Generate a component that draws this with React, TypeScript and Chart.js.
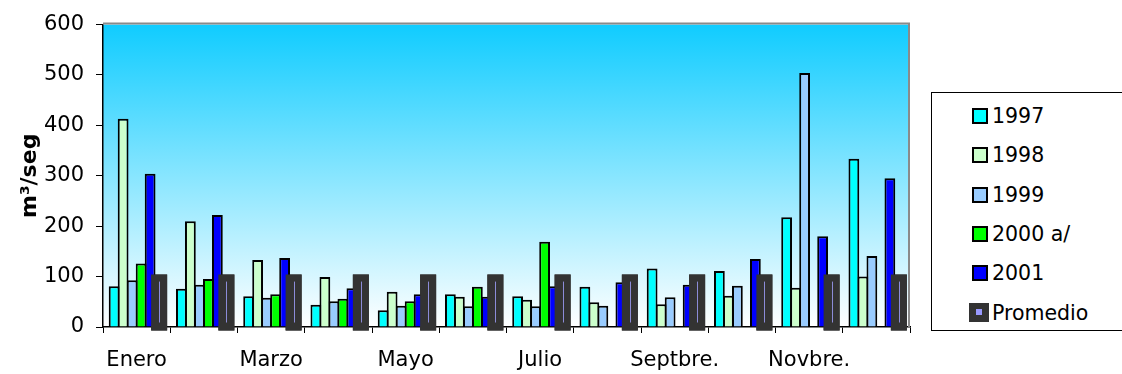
import React, { useEffect, useRef } from 'react';
import { Chart, registerables } from 'chart.js';

Chart.register(...registerables);

const months = ['Enero', 'Febrero', 'Marzo', 'Abril', 'Mayo', 'Junio', 'Julio', 'Agosto', 'Septbre.', 'Octubre', 'Novbre.', 'Dicbre.'];
const serie1997 = [81, 76, 61, 44, 33, 65, 61, 80, 116, 111, 218, 334];
const serie1998 = [413, 210, 133, 99, 70, 60, 54, 49, 45, 62, 78, 100];
const serie1999 = [93, 84, 58, 51, 42, 41, 41, 42, 59, 82, 504, 141];
const serie2000 = [126, 95, 65, 56, 51, 80, 169, null, null, null, null, null];
const serie2001 = [304, 222, 137, 77, 65, 60, 81, 89, 84, 135, 180, 295];
const promedio = [104, 104, 104, 104, 104, 104, 104, 104, 104, 104, 104, 104];

const seriesNames = ['1997', '1998', '1999', '2000 a/', '2001', 'Promedio'];
const seriesColors = ['#00FFFF', '#CCFFCC', '#99CCFF', '#00FF00', '#0000FF', '#333333'];
const yMin = 0;
const yMax = 600;
const yStep = 100;
const yTitle = 'm³/seg';

const FONT = "'DejaVu Sans', Verdana, sans-serif";

const decorPlugin = {
  id: 'decor',
  beforeDraw(chart: any) {
    const { ctx, chartArea: a } = chart;
    const g = ctx.createLinearGradient(0, a.top, 0, a.bottom);
    g.addColorStop(0, '#10CCFF');
    g.addColorStop(1, '#FFFFFF');
    ctx.save();
    ctx.fillStyle = g;
    ctx.fillRect(a.left, a.top, a.right - a.left, a.bottom - a.top);
    ctx.restore();
  },
  afterDatasetsDraw(chart: any) {
    const { ctx } = chart;
    const meta = chart.getDatasetMeta(5);
    ctx.save();
    meta.data.forEach((el: any) => el.draw(ctx));
    ctx.strokeStyle = '#8C8CD8';
    ctx.lineWidth = 1;
    meta.data.forEach((el: any) => {
      const p = el.getProps(['x', 'y', 'base'], true);
      const x = Math.round(p.x) + 0.5;
      ctx.beginPath();
      ctx.moveTo(x, p.y + 7);
      ctx.lineTo(x, p.base - 8);
      ctx.stroke();
    });
    ctx.restore();
  },
  afterDraw(chart: any) {
    const { ctx, chartArea: a } = chart;
    ctx.save();
    ctx.strokeStyle = '#8A8A8A';
    ctx.lineWidth = 2;
    ctx.beginPath();
    ctx.moveTo(a.left, a.top - 1);
    ctx.lineTo(a.right - 1, a.top - 1);
    ctx.lineTo(a.right - 1, a.bottom);
    ctx.stroke();
    ctx.restore();
  },
};

function Legend() {
  const items = seriesNames.map((name, i) => {
    const top = 23 + i * 39.3;
    const isAvg = i === 5;
    return (
      <div key={name} style={{ position: 'absolute', left: 0, top: top - 12, height: 24, width: 190 }}>
        {isAvg ? (
          <div style={{ position: 'absolute', left: 37, top: 2, width: 20, height: 19, background: '#333333' }}>
            <div style={{ position: 'absolute', left: 7, top: 6, width: 6, height: 6, background: '#9999FF' }} />
          </div>
        ) : (
          <div style={{ position: 'absolute', left: 40, top: 4, width: 16, height: 16, boxSizing: 'border-box', border: '2px solid #000', background: seriesColors[i] }} />
        )}
        <div style={{ position: 'absolute', left: 60, top: 0, lineHeight: '24px', fontSize: 20.5, fontFamily: FONT, color: '#000', whiteSpace: 'nowrap' }}>{name}</div>
      </div>
    );
  });
  return (
    <div style={{ position: 'absolute', left: 931, top: 92, width: 200, height: 239, boxSizing: 'border-box', border: '1px solid #000', background: '#fff' }}>
      {items}
    </div>
  );
}

export default function App() {
  const ref = useRef<HTMLCanvasElement | null>(null);
  useEffect(() => {
    if (!ref.current) return;
    const seriesData = [serie1997, serie1998, serie1999, serie2000, serie2001];
    const datasets: any[] = seriesData.map((d, i) => ({
      label: seriesNames[i],
      data: d,
      backgroundColor: seriesColors[i],
      borderColor: '#000000',
      borderWidth: 2,
      categoryPercentage: 0.803,
      barPercentage: 1.2,
    }));
    datasets.push({
      label: seriesNames[5],
      data: promedio,
      backgroundColor: seriesColors[5],
      borderWidth: 0,
      categoryPercentage: 0.803,
      barPercentage: 1.78,
      base: -7,
      clip: { left: 0, top: 0, right: 0, bottom: 10 },
    });
    const chart = new Chart(ref.current, {
      type: 'bar',
      data: { labels: months, datasets },
      options: {
        animation: false,
        responsive: false,
        layout: { padding: { left: 0, top: 18, right: 212, bottom: 0 } },
        plugins: { legend: { display: false }, tooltip: { enabled: false } },
        font: { family: FONT },
        scales: {
          x: {
            grid: { offset: true, drawOnChartArea: false, tickLength: 6, color: '#000', tickColor: '#000' },
            border: { color: '#000', width: 1.5 },
            ticks: {
              autoSkip: false,
              maxRotation: 0,
              minRotation: 0,
              color: '#000',
              padding: 15,
              font: { size: 21, family: FONT },
              callback: (_v: any, i: number) => (i % 2 === 0 ? months[i] : ''),
            },
            afterFit: (s: any) => { s.height = 47; },
          },
          y: {
            min: yMin,
            max: yMax,
            ticks: { stepSize: yStep, color: '#000', padding: 12, font: { size: 21, family: FONT } },
            grid: { drawOnChartArea: false, tickLength: 7, color: '#000', tickColor: '#000' },
            border: { color: '#000', width: 1.5 },
            title: { display: true, text: yTitle, color: '#000', font: { size: 22, weight: 'bold', family: FONT }, padding: { top: 17, bottom: 0 } },
            afterFit: (s: any) => { s.width = 103; },
          },
        },
      } as any,
      plugins: [decorPlugin],
    });
    return () => chart.destroy();
  }, []);
  return (
    <div style={{ position: 'fixed', left: 0, top: 0, width: 1122, height: 374, background: '#fff', overflow: 'hidden' }}>
      <canvas ref={ref} width={1122} height={374} style={{ position: 'absolute', left: 0, top: 0 }} />
      <Legend />
    </div>
  );
}
